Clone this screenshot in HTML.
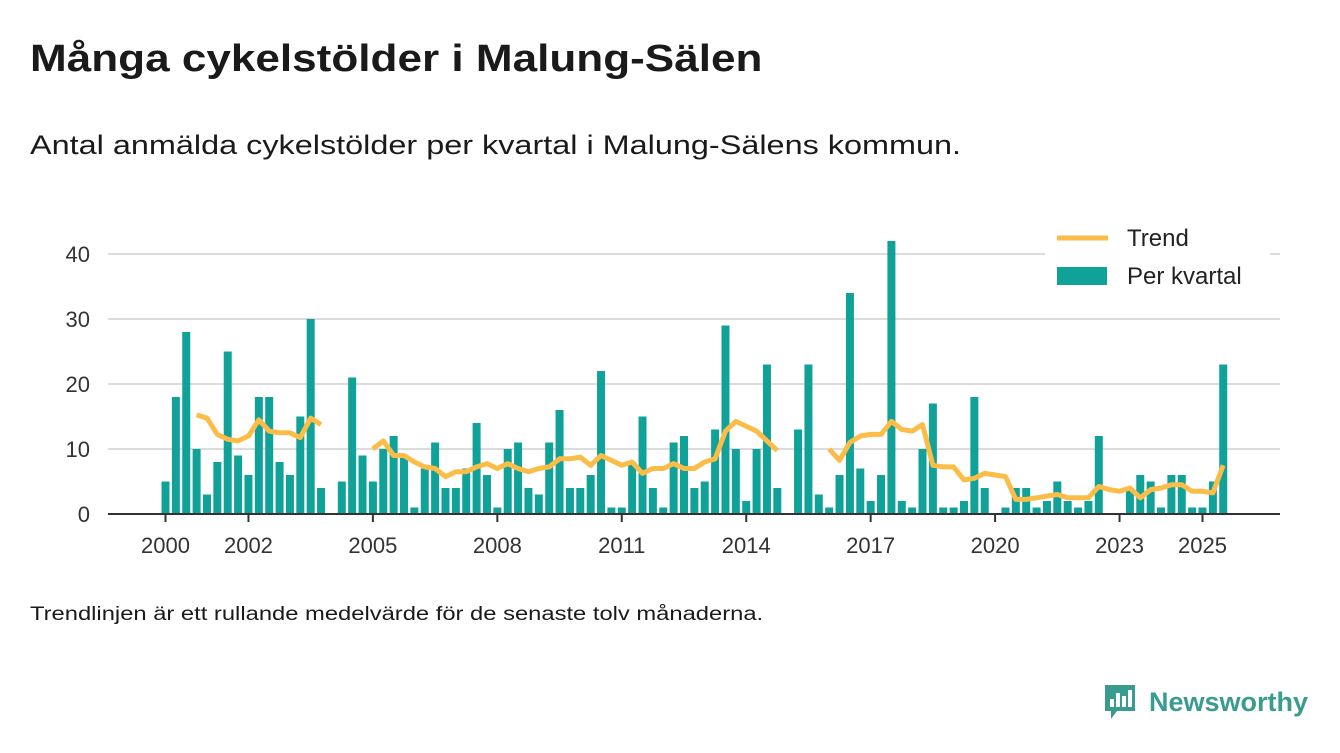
<!DOCTYPE html>
<html><head><meta charset="utf-8"><style>
body{margin:0;background:#fff;width:1340px;height:753px;overflow:hidden;font-family:"Liberation Sans",sans-serif;color:#1a1a1a}
#title{position:absolute;left:30px;top:38px;font-size:38px;font-weight:bold;margin:0;transform:scaleX(1.16);transform-origin:left;white-space:nowrap}
#sub{position:absolute;left:30px;top:130px;font-size:27px;transform:scaleX(1.2);transform-origin:left;white-space:nowrap}
#note{position:absolute;left:30px;top:604px;font-size:19px;transform:scaleX(1.25);transform-origin:left;white-space:nowrap}
#logo{position:absolute;left:1103px;top:683px;display:flex;align-items:center}
#logo span{font-size:27px;font-weight:bold;color:#3a9b8f;margin-left:12px}
svg{position:absolute;left:0;top:0}
</style></head><body>
<h1 id="title">Många cykelstölder i Malung-Sälen</h1>
<div id="sub">Antal anmälda cykelstölder per kvartal i Malung-Sälens kommun.</div>
<svg id="chart" width="1340" height="753"></svg>
<div id="note">Trendlinjen är ett rullande medelvärde för de senaste tolv månaderna.</div>
<div id="logo">
<svg width="34" height="38" viewBox="0 0 34 38" style="position:static"><path d="M2 2h30v26H14l-6 8v-8H2z" fill="#3a9b8f"/><rect x="7" y="16" width="4" height="8" fill="#fff"/><rect x="13" y="10" width="4" height="14" fill="#fff"/><rect x="19" y="13" width="4" height="11" fill="#fff"/><rect x="25" y="7" width="4" height="17" fill="#fff"/></svg>
<span>Newsworthy</span></div>
<script>
const values=[5,18,28,10,3,8,25,9,6,18,18,8,6,15,30,4,null,5,21,9,5,10,12,9,1,7,11,4,4,7,14,6,1,10,11,4,3,11,16,4,4,6,22,1,1,8,15,4,1,11,12,4,5,13,29,10,2,10,23,4,null,13,23,3,1,6,34,7,2,6,42,2,1,10,17,1,1,2,18,4,0,1,4,4,1,2,5,2,1,2,12,0,0,4,6,5,1,6,6,1,1,5,23];
const trend=[null,null,null,15.25,14.75,12.25,11.5,11.25,12,14.5,12.75,12.5,12.5,11.75,14.75,13.75,null,null,null,null,10,11.25,9,9,8,7.25,7,5.75,6.5,6.5,7.25,7.75,7,7.75,7,6.5,7,7.25,8.5,8.5,8.75,7.5,9,8.25,7.5,8,6.25,7,7,7.75,7,7,8,8.5,12.75,14.25,13.5,12.75,11.25,9.75,null,null,null,null,10,8.25,11,12,12.25,12.25,14.25,13,12.75,13.75,7.5,7.25,7.25,5.25,5.5,6.25,6,5.75,2.25,2.25,2.5,2.75,3,2.5,2.5,2.5,4.25,3.75,3.5,4,2.5,3.75,4,4.5,4.5,3.5,3.5,3.25,7.5];
const yTicks=[0,10,20,30,40];
const xTickYears=[2000,2002,2005,2008,2011,2014,2017,2020,2023,2025];
const NS="http://www.w3.org/2000/svg",svg=document.getElementById('chart');
const x0=165.5,step=10.37,y0=514,pu=6.5;
const X=q=>x0+q*step, Y=v=>y0-v*pu;
function mk(t,a){const e=document.createElementNS(NS,t);for(const k in a)e.setAttribute(k,a[k]);svg.appendChild(e);return e;}
yTicks.forEach(t=>{
 if(t>0){const g=mk('line',{x1:108,x2:1280,y1:Y(t),y2:Y(t),stroke:'#dcdcdc','stroke-width':2});
 
 }
 const l=mk('text',{x:90,y:Y(t)+8,'text-anchor':'end','font-size':22,fill:'#333'});l.textContent=t;
 
 
});
values.forEach((v,i)=>{if(v==null||v===0)return;
 const r=mk('rect',{x:X(i)-4,y:Y(v),width:8,height:v*pu,fill:'#10a198'});
 
 });
const ax=mk('line',{x1:108,x2:1280,y1:y0,y2:y0,stroke:'#333','stroke-width':2});


xTickYears.forEach(yr=>{const xx=X((yr-2000)*4);
 const tk=mk('line',{x1:xx,x2:xx,y1:y0,y2:y0+8,stroke:'#333','stroke-width':2});
 
 
 const l=mk('text',{x:xx,y:553,'text-anchor':'middle','font-size':22,fill:'#333'});l.textContent=yr;
 
 });
let segs=[],cur=[];
trend.forEach((v,i)=>{if(v==null){if(cur.length)segs.push(cur);cur=[];}else cur.push(X(i).toFixed(1)+','+Y(v).toFixed(1));});
if(cur.length)segs.push(cur);
segs.forEach(s=>{const p=mk('polyline',{points:s.join(' '),fill:'none',stroke:'#fbbd48','stroke-width':5,'stroke-linejoin':'round'});
 
 });
const lb=mk('rect',{x:1045,y:222,width:225,height:74,fill:'#fff'});


const l1=mk('line',{x1:1057,x2:1108,y1:238,y2:238,stroke:'#fbbd48','stroke-width':5});


const t1=mk('text',{x:1127,y:246,'font-size':24,fill:'#222'});t1.textContent='Trend';


const l2=mk('rect',{x:1057,y:267,width:50,height:18,fill:'#10a198'});


const t2=mk('text',{x:1127,y:284,'font-size':24,fill:'#222'});t2.textContent='Per kvartal';


</script>
</body></html>
